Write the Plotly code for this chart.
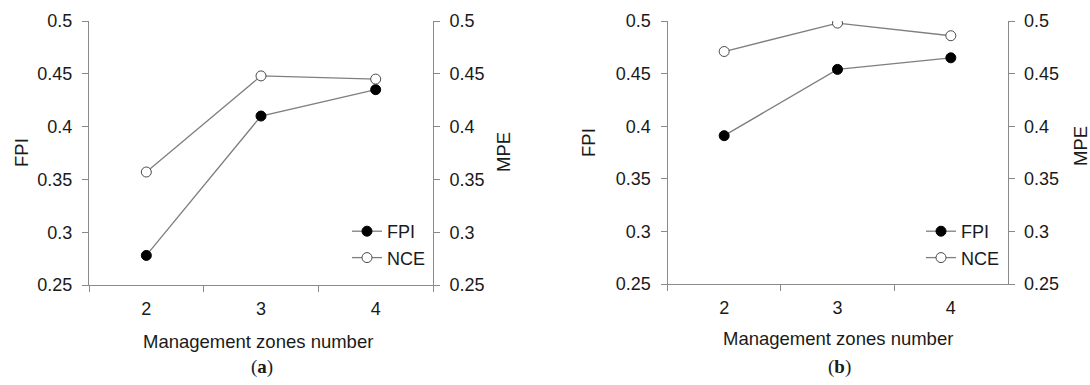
import plotly.graph_objects as go

# Management zone counts on the category axis
zones = ["2", "3", "4"]
tick_vals = [0.25, 0.3, 0.35, 0.4, 0.45, 0.5]

# Panel (a)
fpi_a = [0.278, 0.410, 0.435]
nce_a = [0.357, 0.448, 0.445]

# Panel (b)
fpi_b = [0.391, 0.454, 0.465]
nce_b = [0.471, 0.498, 0.486]

W, H = 1090, 385
FONT = "Liberation Sans, Arial, sans-serif"
TXT = "#1a1a1a"
AXC = "#8a8a8a"
LINE = "#7f7f7f"
TICK_SIZE = 18
TITLE_SIZE = 18.5


def px_x(p):
    return p / W


def px_y(p):
    return 1 - p / H


fig = go.Figure()


def add_panel(idx, fpi, nce, legend_name):
    xa = "x" if idx == 1 else "x%d" % idx
    yl = "y" if idx == 1 else "y%d" % (2 * idx - 1)
    yr = "y%d" % (2 * idx)
    fig.add_trace(go.Scatter(
        x=zones, y=fpi, name="FPI", mode="lines+markers",
        xaxis=xa, yaxis=yl, legend=legend_name,
        line=dict(color=LINE, width=1.3),
        marker=dict(color="black", size=10, line=dict(color="black", width=1)),
    ))
    fig.add_trace(go.Scatter(
        x=zones, y=nce, name="NCE", mode="lines+markers",
        xaxis=xa, yaxis=yr, legend=legend_name,
        line=dict(color=LINE, width=1.3),
        marker=dict(color="white", size=10, line=dict(color="#4a4a4a", width=1)),
    ))


add_panel(1, fpi_a, nce_a, "legend")
add_panel(2, fpi_b, nce_b, "legend2")

common_x = dict(
    type="category", range=[-0.5, 2.5], tickson="boundaries",
    ticks="outside", ticklen=6, tickcolor=AXC, tickwidth=1,
    showline=True, linecolor=AXC, linewidth=1,
    showgrid=False, zeroline=False, automargin=False,
    tickfont=dict(family=FONT, size=TICK_SIZE, color=TXT),
    ticklabelstandoff=7,
)
common_y = dict(
    range=[0.25, 0.5], tickvals=tick_vals,
    ticks="outside", ticklen=6, tickcolor=AXC, tickwidth=1,
    showline=True, linecolor=AXC, linewidth=1,
    showgrid=False, zeroline=False, automargin=False,
    tickfont=dict(family=FONT, size=TICK_SIZE, color=TXT),
    ticklabelstandoff=6,
)

dom_a_x = [px_x(89), px_x(433)]
dom_b_x = [px_x(667.5), px_x(1007.5)]
dom_a_y = [px_y(285), px_y(21)]
dom_b_y = [px_y(284), px_y(21)]

legend_style = dict(
    xanchor="left", yanchor="top",
    bgcolor="rgba(0,0,0,0)", font=dict(family=FONT, size=TICK_SIZE, color=TXT),
    itemwidth=30, tracegroupgap=0,
)

fig.update_layout(
    width=W, height=H, autosize=False,
    margin=dict(l=0, r=0, t=0, b=0, pad=0, autoexpand=False),
    paper_bgcolor="white", plot_bgcolor="white",
    font=dict(family=FONT, size=TICK_SIZE, color=TXT),
    xaxis=dict(domain=dom_a_x, anchor="y", **common_x),
    yaxis=dict(domain=dom_a_y, anchor="x", side="left", **common_y),
    yaxis2=dict(domain=dom_a_y, anchor="x", side="right", overlaying="y", **common_y),
    xaxis2=dict(domain=dom_b_x, anchor="y3", **common_x),
    yaxis3=dict(domain=dom_b_y, anchor="x2", side="left", **common_y),
    yaxis4=dict(domain=dom_b_y, anchor="x2", side="right", overlaying="y3", **common_y),
    legend=dict(x=px_x(347), y=px_y(213), **legend_style),
    legend2=dict(x=px_x(921), y=px_y(213), **legend_style),
    showlegend=True,
)

def label(text, x, y, angle=0, size=TITLE_SIZE, family=FONT):
    fig.add_annotation(
        text=text, x=px_x(x), y=px_y(y), xref="paper", yref="paper",
        xanchor="center", yanchor="middle", showarrow=False, textangle=angle,
        font=dict(family=family, size=size, color=TXT),
    )

# Axis titles
label("FPI", 21, 153, angle=-90)
label("MPE", 503, 152, angle=-90)
label("Management zones number", 258, 341)
label("FPI", 588, 143, angle=-90)
label("MPE", 1080, 146, angle=-90)
label("Management zones number", 838, 338)

# Panel captions
SERIF = "Liberation Serif, Times New Roman, serif"
label("(<b>a</b>)", 262, 367, size=19, family=SERIF)
label("(<b>b</b>)", 839, 367, size=19, family=SERIF)

fig.write_html("out.html")
